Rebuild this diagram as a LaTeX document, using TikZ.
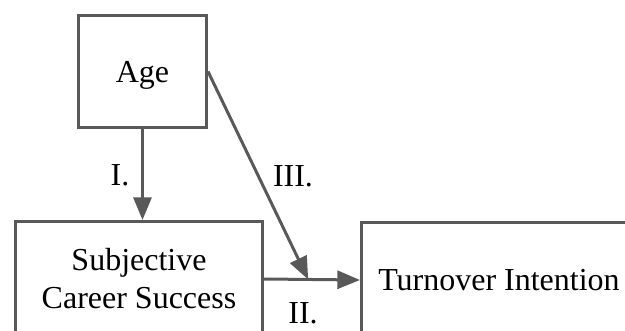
\documentclass[tikz,border=0pt]{standalone}
\usepackage{fontspec}
\setmainfont{Liberation Serif}
\usetikzlibrary{arrows.meta,calc}
\definecolor{linegray}{HTML}{595959}
\begin{document}
\begin{tikzpicture}[x=0.75pt,y=-0.75pt,
  box/.style={draw=linegray,line width=2.25pt,rectangle,inner sep=0pt,align=center,
    font=\fontsize{24}{28.5}\selectfont,text=black},
  conn/.style={draw=linegray,line width=2.25pt,-{Triangle[length=17pt,width=13.5pt]}},
  lbl/.style={font=\fontsize{24}{28.5}\selectfont,text=black,inner sep=0pt}]
\useasboundingbox (0,0) rectangle (625,331);
\begin{scope}
\clip (0,0) rectangle (625,331);
\node[box,minimum width=96pt,minimum height=84pt,text height=16pt,text depth=0pt] (age) at (142.5,71.5) {Age};
\node[box,minimum width=185.25pt,minimum height=86.25pt] (scs) at (139,279) {Subjective\\Career Success};
\node[box,minimum width=206.25pt,minimum height=86.25pt] (ti) at (499,280) {Turnover Intention};
\coordinate (m) at ($(scs.east)!0.46!(ti.west)$);
\draw[conn] (age.south) -- (age.south |- scs.north);
\draw[conn] (scs.east) -- (ti.west);
\draw[conn] (age.east) -- (m);
\node[lbl] (l1) at (120,175) {I.};
\node[lbl] (l3) at (293,176) {III.};
\node[lbl] (l2) at (303,313) {II.};
\end{scope}
\end{tikzpicture}
\end{document}
